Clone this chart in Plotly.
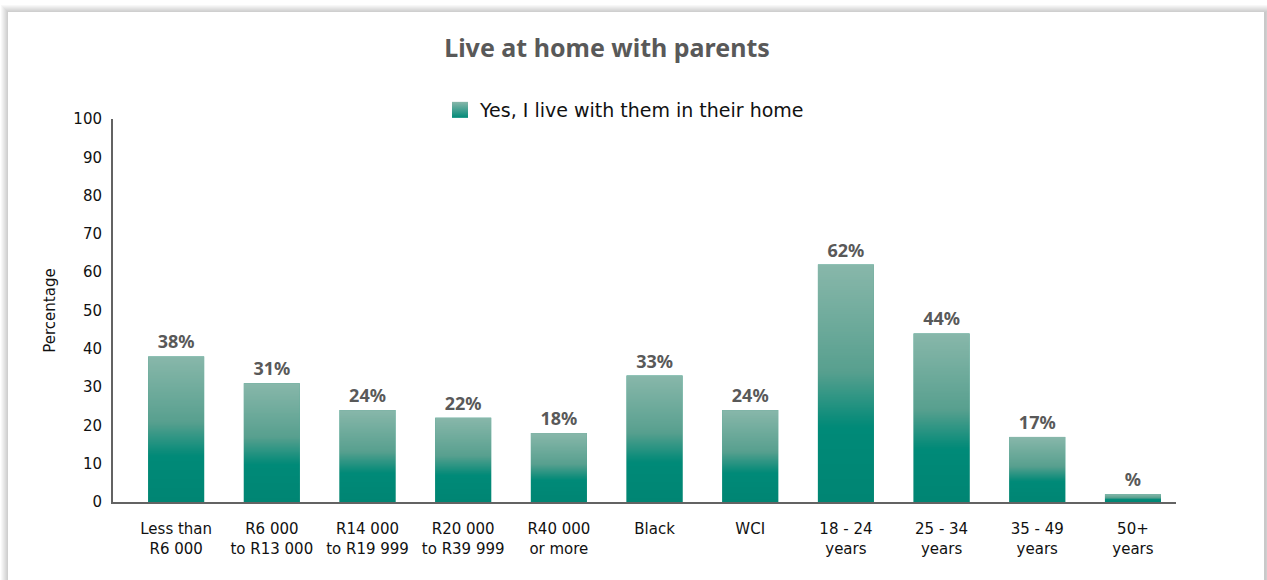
import base64
import struct
import zlib

import plotly.graph_objects as go

# ---- data -------------------------------------------------------------
categories = [
    "Less than<br>R6 000",
    "R6 000<br>to R13 000",
    "R14 000<br>to R19 999",
    "R20 000<br>to R39 999",
    "R40 000<br>or more",
    "Black",
    "WCI",
    "18 - 24<br>years",
    "25 - 34<br>years",
    "35 - 49<br>years",
    "50+<br>years",
]
live_with_parents = [38, 31, 24, 22, 18, 33, 24, 62, 44, 17, 2]
value_labels = ["38%", "31%", "24%", "22%", "18%", "33%", "24%", "62%", "44%", "17%", "%"]
y_ticks = list(range(0, 101, 10))
series_name = "Yes, I live with them in their home"

# ---- geometry / style -------------------------------------------------
W, H = 1267, 580
ML, MR, MT, MB = 113, 91, 119, 78
PW, PH = W - ML - MR, H - MT - MB
BAR_W = 0.585
TEAL = "#2f9882"
TEAL_DARK = "#008a78"
TEAL_LIGHT = "#88b7aa"
GREY_TXT = "#595959"
AXIS_CLR = "#636363"


def px_x(p):
    return (p - ML) / PW


def px_y(q):
    return (H - MB - q) / PH


def gradient_png(stops, height=128):
    """1-pixel wide vertical gradient (top -> bottom) encoded as a PNG data URI."""
    rows = b""
    for r in range(height):
        t = r / (height - 1)
        for (t0, c0), (t1, c1) in zip(stops, stops[1:]):
            if t0 <= t <= t1:
                f = 0 if t1 == t0 else (t - t0) / (t1 - t0)
                col = [round(a + (b - a) * f) for a, b in zip(c0, c1)]
                break
        rows += b"\x00" + bytes(col)

    def chunk(tag, data):
        c = tag + data
        return struct.pack(">I", len(data)) + c + struct.pack(">I", zlib.crc32(c) & 0xFFFFFFFF)

    png = b"\x89PNG\r\n\x1a\n"
    png += chunk(b"IHDR", struct.pack(">IIBBBBB", 1, height, 8, 2, 0, 0, 0))
    png += chunk(b"IDAT", zlib.compress(rows))
    png += chunk(b"IEND", b"")
    return "data:image/png;base64," + base64.b64encode(png).decode()


bar_fill = gradient_png([
    (0.00, (136, 183, 170)),
    (0.45, (88, 160, 143)),
    (0.66, (10, 140, 122)),
    (0.69, (0, 138, 120)),
    (1.00, (0, 133, 115)),
])

x_idx = list(range(len(categories)))

fig = go.Figure()
fig.add_trace(go.Bar(
    x=x_idx,
    y=live_with_parents,
    width=BAR_W,
    name=series_name,
    legendgroup="yes",
    marker=dict(color=TEAL, line=dict(width=0)),
    text=value_labels,
    textposition="outside",
    textfont=dict(family="Noto Sans", size=18, color=GREY_TXT, weight="bold"),
    cliponaxis=False,
    showlegend=False,
))
# legend entry with a larger, shaded square swatch
fig.add_trace(go.Scatter(
    x=[None], y=[None],
    mode="markers",
    name=series_name,
    legendgroup="yes",
    marker=dict(symbol="square", size=17, color=TEAL_LIGHT,
                gradient=dict(type="vertical", color=TEAL_DARK),
                line=dict(width=0)),
    showlegend=True,
    hoverinfo="skip",
))

# gradient fill laid over each bar, sized from the bar's own value
images = []
for i, v in zip(x_idx, live_with_parents):
    images.append(dict(
        source=bar_fill, xref="x", yref="y",
        x=i, y=v, sizex=BAR_W, sizey=v,
        xanchor="center", yanchor="top",
        sizing="stretch", layer="above",
    ))

# card background with a soft drop shadow
shapes = []
cx0, cx1, cy0, cy1 = 8, 1264, 12, 600
for k in range(8, 0, -1):
    shapes.append(dict(
        type="rect", xref="paper", yref="paper", layer="below",
        x0=px_x(cx0 - k + 1), x1=px_x(cx1 + k + 1),
        y0=px_y(cy1 + k), y1=px_y(cy0 - k + 1),
        fillcolor="rgba(0,0,0,0.026)", line=dict(width=0),
    ))
shapes.append(dict(
    type="rect", xref="paper", yref="paper", layer="below",
    x0=px_x(cx0), x1=px_x(cx1), y0=px_y(cy1), y1=px_y(cy0),
    fillcolor="white", line=dict(width=0),
))

fig.update_layout(
    width=W, height=H,
    margin=dict(l=ML, r=MR, t=MT, b=MB, pad=0),
    paper_bgcolor="white",
    plot_bgcolor="rgba(0,0,0,0)",
    font=dict(family="DejaVu Sans", size=15, color="#111111"),
    title=dict(
        text="Live at home with parents",
        font=dict(family="Noto Sans", size=25, color=GREY_TXT, weight="bold"),
        x=607 / W, xanchor="center", xref="container",
        y=1 - 48 / H, yanchor="middle", yref="container",
    ),
    legend=dict(
        orientation="h",
        x=px_x(625), xanchor="center",
        y=px_y(110), yanchor="middle",
        font=dict(family="DejaVu Sans", size=19, color="#111111"),
        bgcolor="rgba(0,0,0,0)",
    ),
    xaxis=dict(
        range=[-0.66, 10.45],
        tickvals=x_idx, ticktext=categories,
        showline=True, linecolor=AXIS_CLR, linewidth=2,
        showgrid=False, zeroline=False,
        ticks="outside", ticklen=12, tickcolor="rgba(0,0,0,0)",
        tickfont=dict(family="DejaVu Sans", size=15, color="#111111"),
    ),
    yaxis=dict(
        range=[0, 100], tickvals=y_ticks,
        showline=True, linecolor=AXIS_CLR, linewidth=2,
        showgrid=False, zeroline=False,
        ticks="outside", ticklen=6, tickcolor="rgba(0,0,0,0)",
        tickfont=dict(family="DejaVu Sans", size=15, color="#111111"),
        title=dict(text="Percentage", standoff=14,
                   font=dict(family="DejaVu Sans", size=15, color="#111111")),
    ),
    images=images,
    shapes=shapes,
    bargap=0.4,
)

fig.write_html("out.html")
